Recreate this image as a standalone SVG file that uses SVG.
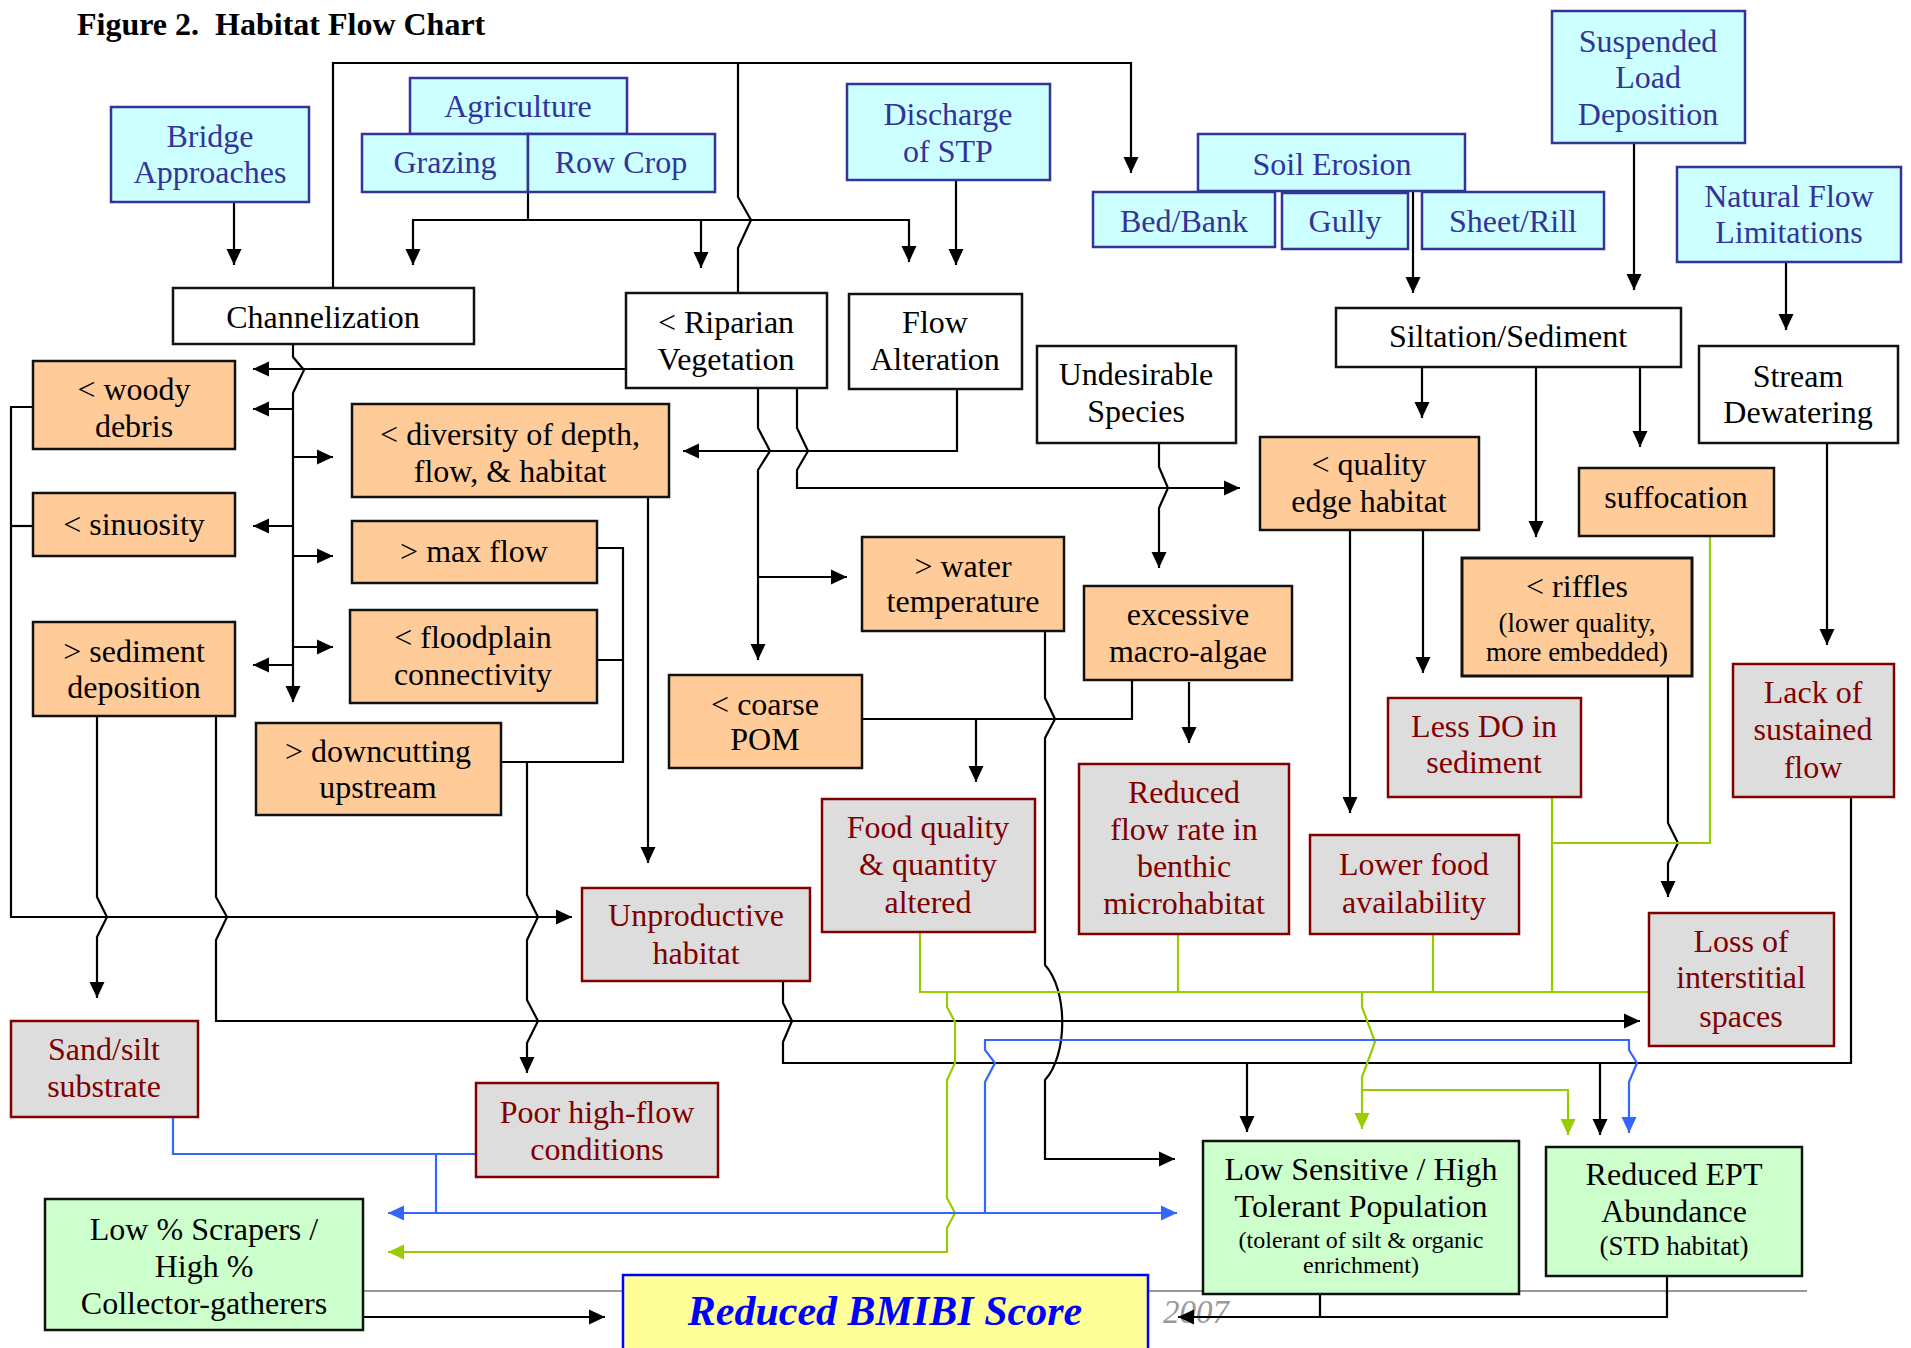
<svg xmlns="http://www.w3.org/2000/svg" width="1911" height="1348" viewBox="0 0 1911 1348">
<style>
text{font-family:"Liberation Serif","Times New Roman",serif;font-size:32px;text-anchor:middle}
.src rect{fill:#CCFFFF;stroke:#333399;stroke-width:2.5}
.src text{fill:#333399}
.mid rect{fill:#FFFFFF;stroke:#111;stroke-width:2.5}
.mid text{fill:#000}
.org rect{fill:#FFCC99;stroke:#111;stroke-width:2.5}
.org text{fill:#000}
.red rect{fill:#DDDDDD;stroke:#800000;stroke-width:2.5}
.red text{fill:#800000}
.grn rect{fill:#CCFFCC;stroke:#111;stroke-width:2.5}
.grn text{fill:#000}
.k path{fill:none;stroke:#000;stroke-width:2.2}
.g path{fill:none;stroke:#99CC00;stroke-width:2.2}
.b path{fill:none;stroke:#3366FF;stroke-width:2.2}
.ka{marker-end:url(#ak)}
.ga{marker-end:url(#ag)}
.ba{marker-end:url(#ab)}
</style>
<defs>
<marker id="ak" markerUnits="userSpaceOnUse" markerWidth="16" markerHeight="16" viewBox="0 0 16 16" refX="16" refY="8" orient="auto"><path d="M0,0.5 L16,8 L0,15.5 z" fill="#000"/></marker>
<marker id="ag" markerUnits="userSpaceOnUse" markerWidth="16" markerHeight="16" viewBox="0 0 16 16" refX="16" refY="8" orient="auto"><path d="M0,0.5 L16,8 L0,15.5 z" fill="#99CC00"/></marker>
<marker id="ab" markerUnits="userSpaceOnUse" markerWidth="16" markerHeight="16" viewBox="0 0 16 16" refX="16" refY="8" orient="auto"><path d="M0,0.5 L16,8 L0,15.5 z" fill="#3366FF"/></marker>
</defs>
<rect width="1911" height="1348" fill="#fff"/>
<text x="77" y="35" style="font-size:32px;font-weight:bold;text-anchor:start;white-space:pre">Figure 2.  Habitat Flow Chart</text>
<path d="M45,1291 H1807" stroke="#999" stroke-width="2" fill="none"/>
<text x="1163" y="1323" style="font-size:33px;font-style:italic;fill:#999;text-anchor:start">2007</text>

<g id="connectors">
<g class="k">
<path class="ka" d="M234,202 V265"/>
<path class="ka" d="M333,288 V63 H1131 V173"/>
<path d="M738,293 V248 L751,220 L738,197 V63"/>
<path d="M528,192 V220"/>
<path class="ka" d="M528,220 H413 V265"/>
<path class="ka" d="M528,220 H909 V262"/>
<path class="ka" d="M701,220 V268"/>
<path class="ka" d="M956,180 V265"/>
<path class="ka" d="M1413,191 V293"/>
<path class="ka" d="M1634,143 V290"/>
<path class="ka" d="M1786,262 V330"/>
<path class="ka" d="M293,344 V357 L304,370 L293,393 V702"/>
<path class="ka" d="M626,369 H253"/>
<path class="ka" d="M293,409 H253"/>
<path class="ka" d="M293,457 H333"/>
<path class="ka" d="M293,526 H253"/>
<path class="ka" d="M293,556 H333"/>
<path class="ka" d="M293,647 H333"/>
<path class="ka" d="M293,665 H253"/>
<path class="ka" d="M33,407 H11 V917 H572"/>
<path d="M33,526 H11"/>
<path class="ka" d="M97,716 V897 L107,917 L97,937 V998"/>
<path class="ka" d="M216,716 V897 L227,917 L216,940 V1021 H1640"/>
<path d="M597,548 H623 V762 H501 M597,660 H623"/>
<path class="ka" d="M527,762 V895 L538,917 L527,940 V1000 L538,1021 L527,1043 V1073"/>
<path class="ka" d="M648,497 V863"/>
<path class="ka" d="M957,389 V451 H683"/>
<path class="ka" d="M758,388 V428 L770,451 L758,470 V660"/>
<path class="ka" d="M758,577 H847"/>
<path class="ka" d="M797,388 V428 L808,451 L797,470 V488 H1240"/>
<path class="ka" d="M1159,443 V467 L1168,488 L1159,508 V568"/>
<path class="ka" d="M1045,631 V698 L1055,719 L1045,738 V965 C1068,990 1068,1055 1045,1080 V1159 H1175"/>
<path d="M1132,680 V719 H862"/>
<path class="ka" d="M976,719 V782"/>
<path class="ka" d="M1189,682 V743"/>
<path class="ka" d="M1422,367 V418"/>
<path class="ka" d="M1536,367 V537"/>
<path class="ka" d="M1640,367 V447"/>
<path class="ka" d="M1350,530 V813"/>
<path class="ka" d="M1423,530 V673"/>
<path class="ka" d="M1827,443 V645"/>
<path class="ka" d="M1668,676 V823 L1678,843 L1668,863 V897"/>
<path d="M783,981 V1003 L792,1021 L783,1042 V1063 H1851 V797"/>
<path class="ka" d="M1247,1063 V1132"/>
<path class="ka" d="M1600,1063 V1135"/>
<path d="M1320,1294 V1317"/>
<path class="ka" d="M1667,1276 V1317 H1178"/>
<path class="ka" d="M363,1317 H605"/>
</g>
<g class="g">
<path d="M920,932 V992 H1648 M1178,934 V992 M1433,934 V992"/>
<path d="M1710,536 V843 H1552 M1552,797 V992"/>
<path class="ga" d="M947,992 V1007 L955,1022 V1063 L947,1080 V1198 L955,1213 L947,1228 V1252 H388"/>
<path class="ga" d="M1362,992 V1007 L1375,1042 L1362,1077 V1129"/>
<path class="ga" d="M1362,1090 H1568 V1135"/>
</g>
<g class="b">
<path d="M173,1117 V1154 H476 M436,1154 V1213"/>
<path class="ba" d="M436,1213 H388"/>
<path class="ba" d="M436,1213 H1177"/>
<path class="ba" d="M985,1213 V1082 L995,1063 L985,1050 V1040 H1629 V1050 L1637,1063 L1629,1082 V1133"/>
</g>
</g>

<g id="bridge" class="src"><rect x="111" y="107" width="198" height="95"/><text x="210" y="147">Bridge</text><text x="210" y="183">Approaches</text></g>
<g id="agriculture" class="src"><rect x="410" y="78" width="217" height="56"/><text x="518" y="117">Agriculture</text></g>
<g id="grazing" class="src"><rect x="362" y="134" width="166" height="58"/><text x="445" y="173">Grazing</text></g>
<g id="rowcrop" class="src"><rect x="528" y="134" width="187" height="58"/><text x="621" y="173">Row Crop</text></g>
<g id="stp" class="src"><rect x="847" y="84" width="203" height="96"/><text x="948" y="125">Discharge</text><text x="948" y="162">of STP</text></g>
<g id="soilerosion" class="src"><rect x="1198" y="134" width="267" height="57"/><text x="1332" y="175">Soil Erosion</text></g>
<g id="bedbank" class="src"><rect x="1093" y="192" width="182" height="55"/><text x="1184" y="232">Bed/Bank</text></g>
<g id="gully" class="src"><rect x="1282" y="193" width="126" height="56"/><text x="1345" y="232">Gully</text></g>
<g id="sheetrill" class="src"><rect x="1422" y="192" width="182" height="57"/><text x="1513" y="232">Sheet/Rill</text></g>
<g id="suspended" class="src"><rect x="1552" y="11" width="193" height="132"/><text x="1648" y="52">Suspended</text><text x="1648" y="88">Load</text><text x="1648" y="125">Deposition</text></g>
<g id="naturalflow" class="src"><rect x="1677" y="167" width="224" height="95"/><text x="1789" y="207">Natural Flow</text><text x="1789" y="243">Limitations</text></g>

<g id="channelization" class="mid"><rect x="173" y="288" width="301" height="56"/><text x="323" y="328">Channelization</text></g>
<g id="riparian" class="mid"><rect x="626" y="293" width="201" height="95"/><text x="726" y="333">&lt; Riparian</text><text x="726" y="370">Vegetation</text></g>
<g id="flowalteration" class="mid"><rect x="849" y="294" width="173" height="95"/><text x="935" y="333">Flow</text><text x="935" y="370">Alteration</text></g>
<g id="undesirable" class="mid"><rect x="1037" y="346" width="199" height="97"/><text x="1136" y="385">Undesirable</text><text x="1136" y="422">Species</text></g>
<g id="siltation" class="mid"><rect x="1336" y="308" width="345" height="59"/><text x="1508" y="347">Siltation/Sediment</text></g>
<g id="dewatering" class="mid"><rect x="1699" y="346" width="199" height="97"/><text x="1798" y="387">Stream</text><text x="1798" y="423">Dewatering</text></g>

<g id="woody" class="org"><rect x="33" y="361" width="202" height="88"/><text x="134" y="400">&lt; woody</text><text x="134" y="437">debris</text></g>
<g id="sinuosity" class="org"><rect x="33" y="493" width="202" height="63"/><text x="134" y="535">&lt; sinuosity</text></g>
<g id="seddep" class="org"><rect x="33" y="622" width="202" height="94"/><text x="134" y="662">&gt; sediment</text><text x="134" y="698">deposition</text></g>
<g id="diversity" class="org"><rect x="352" y="404" width="317" height="93"/><text x="510" y="445">&lt; diversity of depth,</text><text x="510" y="482">flow, &amp; habitat</text></g>
<g id="maxflow" class="org"><rect x="352" y="521" width="245" height="62"/><text x="474" y="562">&gt; max flow</text></g>
<g id="floodplain" class="org"><rect x="350" y="610" width="247" height="93"/><text x="473" y="648">&lt; floodplain</text><text x="473" y="685">connectivity</text></g>
<g id="downcutting" class="org"><rect x="256" y="723" width="245" height="92"/><text x="378" y="762">&gt; downcutting</text><text x="378" y="798">upstream</text></g>
<g id="watertemp" class="org"><rect x="862" y="537" width="202" height="94"/><text x="963" y="577">&gt; water</text><text x="963" y="612">temperature</text></g>
<g id="coarsepom" class="org"><rect x="669" y="675" width="193" height="93"/><text x="765" y="715">&lt; coarse</text><text x="765" y="750">POM</text></g>
<g id="macroalgae" class="org"><rect x="1084" y="586" width="208" height="94"/><text x="1188" y="625">excessive</text><text x="1188" y="662">macro-algae</text></g>
<g id="edgehabitat" class="org"><rect x="1260" y="437" width="219" height="93"/><text x="1369" y="475">&lt; quality</text><text x="1369" y="512">edge habitat</text></g>
<g id="suffocation" class="org"><rect x="1579" y="468" width="195" height="68"/><text x="1676" y="508">suffocation</text></g>
<g id="riffles" class="org"><rect x="1462" y="558" width="230" height="118" style="stroke-width:3"/><text x="1577" y="597">&lt; riffles</text><text x="1577" y="632" style="font-size:27px">(lower quality,</text><text x="1577" y="661" style="font-size:27px">more embedded)</text></g>

<g id="sandsilt" class="red"><rect x="11" y="1021" width="187" height="96"/><text x="104" y="1060">Sand/silt</text><text x="104" y="1097">substrate</text></g>
<g id="unproductive" class="red"><rect x="582" y="888" width="228" height="93"/><text x="696" y="926">Unproductive</text><text x="696" y="964">habitat</text></g>
<g id="foodquality" class="red"><rect x="822" y="799" width="213" height="133"/><text x="928" y="838">Food quality</text><text x="928" y="875">&amp; quantity</text><text x="928" y="913">altered</text></g>
<g id="reducedflow" class="red"><rect x="1079" y="764" width="210" height="170"/><text x="1184" y="803">Reduced</text><text x="1184" y="840">flow rate in</text><text x="1184" y="877">benthic</text><text x="1184" y="914">microhabitat</text></g>
<g id="lessdo" class="red"><rect x="1388" y="698" width="193" height="99"/><text x="1484" y="737">Less DO in</text><text x="1484" y="773">sediment</text></g>
<g id="lowerfood" class="red"><rect x="1310" y="835" width="209" height="99"/><text x="1414" y="875">Lower food</text><text x="1414" y="913">availability</text></g>
<g id="lacksustained" class="red"><rect x="1733" y="664" width="161" height="133"/><text x="1813" y="703">Lack of</text><text x="1813" y="740">sustained</text><text x="1813" y="778">flow</text></g>
<g id="lossinterstitial" class="red"><rect x="1649" y="913" width="185" height="133"/><text x="1741" y="952">Loss of</text><text x="1741" y="988">interstitial</text><text x="1741" y="1027">spaces</text></g>
<g id="poorhighflow" class="red"><rect x="476" y="1083" width="242" height="94"/><text x="597" y="1123">Poor high-flow</text><text x="597" y="1160">conditions</text></g>

<g id="scrapers" class="grn"><rect x="45" y="1199" width="318" height="131"/><text x="204" y="1240">Low % Scrapers /</text><text x="204" y="1277">High %</text><text x="204" y="1314">Collector-gatherers</text></g>
<g id="lowsensitive" class="grn"><rect x="1203" y="1141" width="316" height="153"/><text x="1361" y="1180">Low Sensitive / High</text><text x="1361" y="1217">Tolerant Population</text><text x="1361" y="1248" style="font-size:24px">(tolerant of silt &amp; organic</text><text x="1361" y="1273" style="font-size:24px">enrichment)</text></g>
<g id="reducedept" class="grn"><rect x="1546" y="1147" width="256" height="129"/><text x="1674" y="1185">Reduced EPT</text><text x="1674" y="1222">Abundance</text><text x="1674" y="1255" style="font-size:27px">(STD habitat)</text></g>
<g id="bmibi"><rect x="623" y="1275" width="525" height="85" fill="#FFFF99" stroke="#0000FF" stroke-width="2.5"/><text x="885" y="1325" style="font-size:42px;font-weight:bold;font-style:italic;fill:#0000FF">Reduced BMIBI Score</text></g>
</svg>
